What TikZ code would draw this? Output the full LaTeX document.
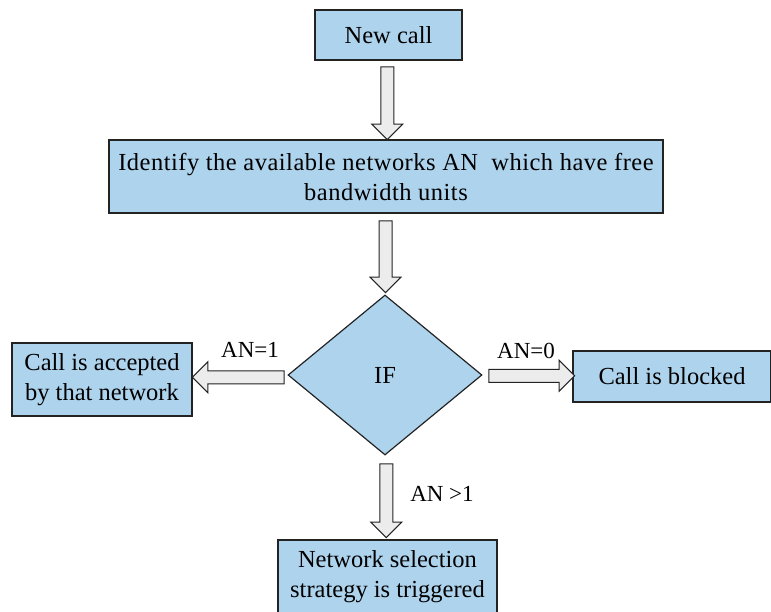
\documentclass[tikz,border=0pt]{standalone}
\usepackage{fontspec}
\setmainfont{Liberation Serif}
\newfontfamily\tms{Liberation Serif}
\usetikzlibrary{shapes.geometric,shapes.arrows,calc}
\definecolor{boxblue}{RGB}{174,211,237}
\definecolor{agrey}{RGB}{236,236,236}
\definecolor{edge}{RGB}{35,35,35}
\tikzset{
  box/.style={draw=edge, line width=1.2pt, fill=boxblue, inner sep=0pt, align=center,
    font=\tms\fontsize{24.5}{30}\selectfont},
  barrow/.style={shape=single arrow, draw=edge, line width=1pt, fill=agrey, inner sep=6pt,
    single arrow head extend=9pt, single arrow head indent=0pt},
  lbl/.style={font=\tms\fontsize{23}{26}\selectfont, inner sep=0pt}
}
\newcommand\blockarrow[4]{%
  \path let \p1=#2, \p2=#3, \n2={veclen(\x2-\x1,\y2-\y1)} in
    node[barrow, minimum height=\n2, rotate=#4] (#1) at ($#2!0.5!#3$) {};}
\begin{document}
\begin{tikzpicture}[x=1pt,y=1pt]
\useasboundingbox (0,0) rectangle (771,-612);
\node[box, minimum width=147pt, minimum height=50pt] (new) at (388.5,-35) {New call};
\node[box, minimum width=554pt, minimum height=73pt] (id) at (386,-176.5)
  {\addfontfeature{LetterSpace=2}Identify the available networks AN \ which have free\\\addfontfeature{LetterSpace=2}bandwidth units};
\node[draw=edge, line width=1.2pt, fill=boxblue, shape=diamond, inner sep=0pt,
  minimum width=194pt, minimum height=160pt, font=\tms\fontsize{24.5}{30}\selectfont] (if) at (385,-375) {IF};
\node[box, minimum width=180pt, minimum height=73pt] (acc) at (102,-379.5)
  {Call is accepted\\by that network};
\node[box, minimum width=198pt, minimum height=51pt] (blk) at (672,-376.5) {Call is blocked};
\node[box, minimum width=219pt, minimum height=74pt] (nss) at (387.5,-577)
  {Network selection\\strategy is triggered};
\blockarrow{a1}{($(new.south)+(0,-3)$)}{($(id.north)+(0,3)$)}{-90}
\blockarrow{a2}{($(id.south)+(0,-4)$)}{($(if.north)+(0,5)$)}{-90}
\blockarrow{a3}{(if.west)}{($(acc.east)+(3,0)$)}{180}
\blockarrow{a4}{($(if.east)+(3,0)$)}{($(blk.west)+(-1,0)$)}{0}
\blockarrow{a5}{($(if.south)+(0,-5)$)}{($(nss.north)+(0,5)$)}{-90}
\node[lbl] (l1) at (250,-350) {AN=1};
\node[lbl] (l0) at (526,-351) {AN=0};
\node[lbl] (lg) at (442,-494) {AN >1};
\end{tikzpicture}
\end{document}
